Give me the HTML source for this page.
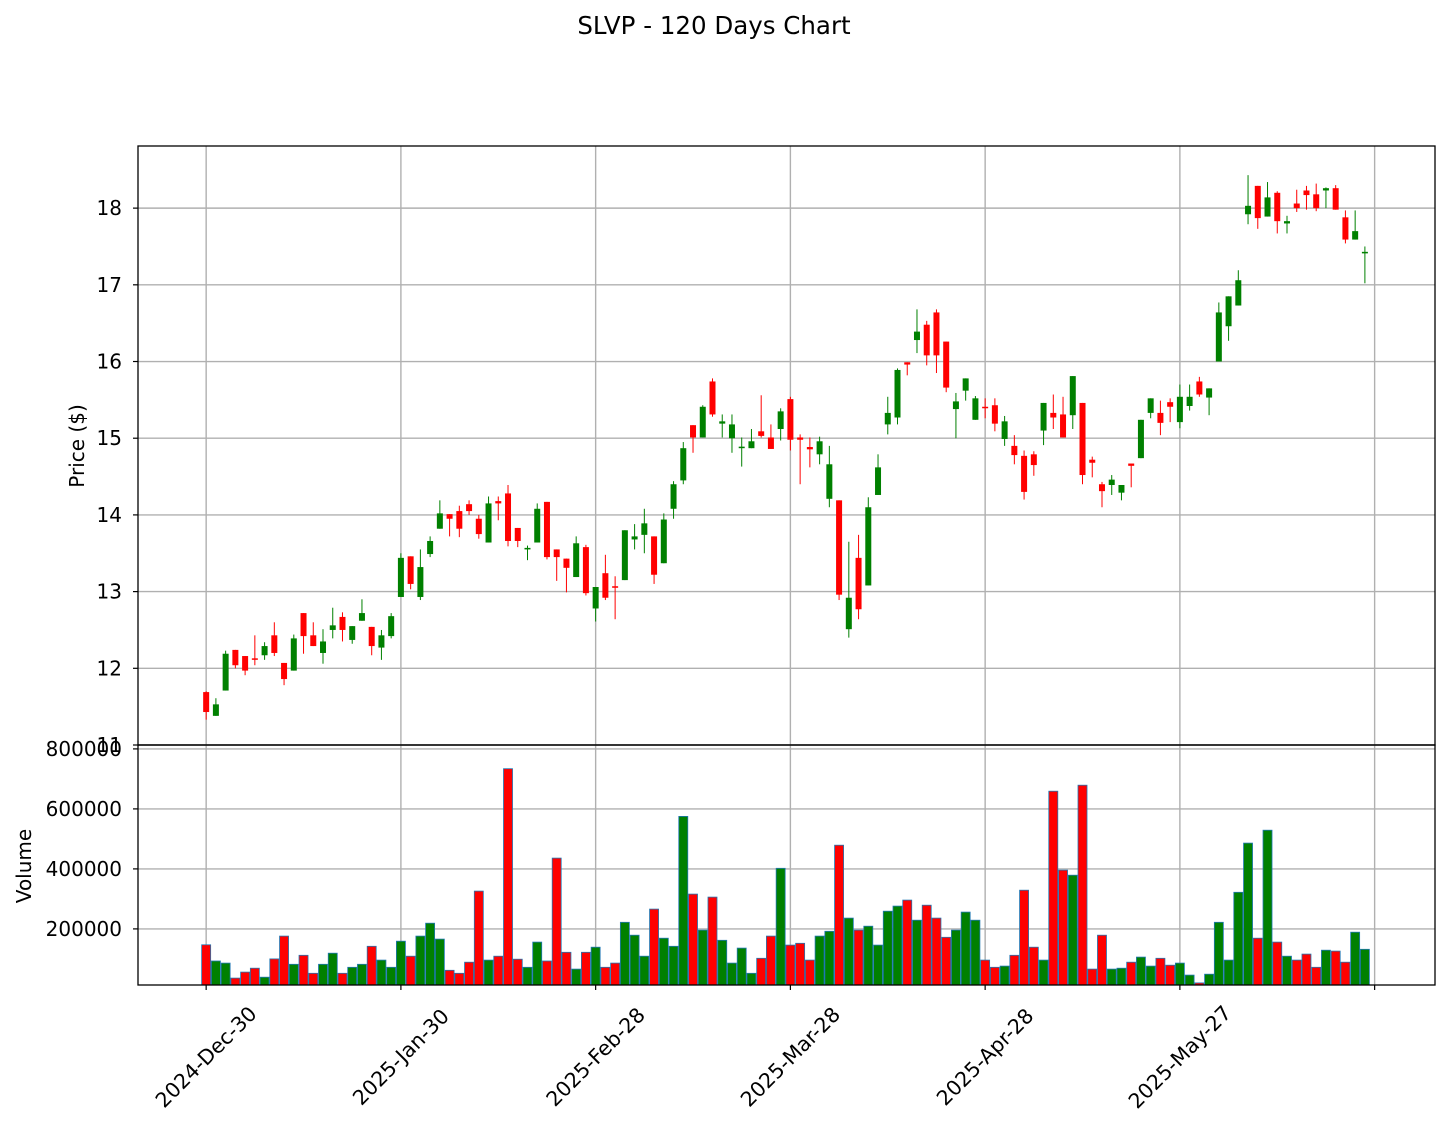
<!DOCTYPE html>
<html>
<head>
<meta charset="utf-8">
<style>
html,body{margin:0;padding:0;background:#fff;}
svg{display:block;font-family:"DejaVu Sans","Liberation Sans",sans-serif;}
</style>
</head>
<body>
<svg id="chart" width="1448" height="1127" viewBox="0 0 1448 1127" xmlns="http://www.w3.org/2000/svg">
<rect x="0" y="0" width="1448" height="1127" fill="#fff"/>
<text x="714" y="34" font-size="24.5" text-anchor="middle" fill="#000">SLVP - 120 Days Chart</text>
<g id="grid"></g>
<g id="candles"></g>
<g id="vols"></g>
<g id="axes"></g>
<text transform="translate(84,446) rotate(-90)" font-size="20" text-anchor="middle">Price ($)</text>
<text transform="translate(31,866) rotate(-90)" font-size="20" text-anchor="middle">Volume</text>
</svg>
<script>
const opens=[11.69,11.38,11.71,12.24,12.16,12.13,12.17,12.43,12.07,11.97,12.72,12.43,12.20,12.50,12.67,12.37,12.62,12.54,12.27,12.42,
12.93,13.46,12.93,13.49,13.82,14.01,14.05,14.14,13.95,13.64,14.18,14.28,13.83,13.55,13.64,14.17,13.55,13.43,13.19,13.58,
12.78,13.24,13.07,13.15,13.68,13.74,13.72,13.37,14.08,14.45,15.17,15.01,15.74,15.19,15.00,14.87,14.87,15.09,15.01,15.12,
15.51,15.01,14.885,14.79,14.21,14.19,12.51,13.44,13.08,14.26,15.18,15.27,15.99,16.28,16.48,16.64,16.26,15.38,15.62,15.24,
15.41,15.43,14.99,14.90,14.77,14.79,15.10,15.33,15.31,15.30,15.46,14.72,14.40,14.39,14.29,14.67,14.74,15.33,15.33,15.47,
15.21,15.42,15.74,15.53,16.00,16.46,16.73,17.92,18.29,17.89,18.20,17.80,18.06,18.23,18.18,18.23,18.26,17.88,17.59,17.41];
const closes=[11.43,11.53,12.19,12.04,11.97,12.12,12.29,12.20,11.86,12.39,12.42,12.29,12.35,12.56,12.50,12.55,12.72,12.29,12.43,12.68,
13.44,13.10,13.32,13.66,14.02,13.95,13.82,14.05,13.75,14.15,14.15,13.66,13.66,13.57,14.08,13.45,13.45,13.31,13.63,12.98,
13.06,12.92,13.05,13.80,13.72,13.89,13.22,13.94,14.40,14.87,15.01,15.41,15.31,15.22,15.18,14.89,14.96,15.03,14.86,15.35,
14.98,14.98,14.855,14.96,14.66,12.96,12.92,12.77,14.10,14.62,15.33,15.89,15.96,16.39,16.08,16.08,15.66,15.48,15.78,15.52,
15.40,15.19,15.22,14.78,14.30,14.65,15.46,15.27,15.01,15.81,14.52,14.68,14.31,14.46,14.39,14.64,15.24,15.52,15.20,15.41,
15.54,15.54,15.57,15.65,16.64,16.85,17.06,18.03,17.87,18.14,17.83,17.83,18.00,18.17,18.00,18.26,17.98,17.59,17.70,17.43];
const highs=[11.70,11.61,12.23,12.24,12.16,12.43,12.34,12.60,12.07,12.44,12.72,12.60,12.51,12.79,12.73,12.55,12.90,12.54,12.50,12.72,
13.50,13.46,13.55,13.72,14.19,14.01,14.12,14.19,14.00,14.24,14.24,14.39,13.83,13.60,14.15,14.17,13.55,13.43,13.72,13.61,
13.06,13.48,13.20,13.80,13.88,14.08,13.72,14.02,14.44,14.95,15.17,15.43,15.78,15.31,15.31,15.01,15.12,15.56,15.18,15.39,
15.54,15.05,15.01,15.02,14.90,14.19,13.65,13.74,14.23,14.79,15.54,15.91,15.99,16.68,16.53,16.68,16.26,15.59,15.78,15.55,
15.52,15.52,15.29,15.04,14.84,14.83,15.46,15.57,15.54,15.81,15.46,14.76,14.43,14.52,14.39,14.67,15.24,15.52,15.49,15.52,
15.70,15.70,15.80,15.65,16.77,16.85,17.19,18.43,18.29,18.34,18.22,17.90,18.24,18.29,18.32,18.27,18.30,17.97,17.97,17.50];
const lows=[11.33,11.38,11.71,12.00,11.91,12.04,12.11,12.16,11.78,11.97,12.19,12.29,12.06,12.39,12.35,12.32,12.62,12.17,12.11,12.39,
12.93,13.03,12.89,13.45,13.82,13.72,13.71,14.00,13.69,13.64,13.93,13.59,13.58,13.41,13.64,13.42,13.14,12.99,13.19,12.95,
12.61,12.89,12.64,13.15,13.55,13.50,13.10,13.37,13.95,14.40,14.81,15.01,15.28,15.01,14.81,14.63,14.87,15.01,14.86,14.97,
14.84,14.40,14.62,14.66,14.10,12.89,12.40,12.64,13.08,14.26,15.05,15.18,15.82,16.11,15.95,15.85,15.60,15.00,15.49,15.24,
15.26,15.09,14.90,14.66,14.20,14.51,14.91,15.12,15.01,15.12,14.40,14.49,14.10,14.26,14.19,14.36,14.74,15.26,15.04,15.21,
15.13,15.36,15.54,15.30,16.00,16.27,16.73,17.79,17.73,17.89,17.67,17.67,17.95,17.98,17.96,18.00,17.98,17.54,17.59,17.02];
const volumes=[147,93,86,36,56,69,39,100,176,82,112,52,82,119,52,72,82,142,96,72,
159,109,176,219,166,62,52,89,326,96,109,734,99,72,156,93,436,122,66,122,
139,72,86,222,179,109,266,169,142,575,316,196,306,162,86,136,52,102,176,402,
146,152,96,176,192,479,236,196,209,146,259,276,296,229,279,236,172,196,256,229,
96,72,76,112,329,139,96,659,396,379,679,66,179,66,69,89,106,76,102,79,
86,46,20,49,222,96,322,486,169,529,156,109,96,116,72,129,126,89,189,132].map(v=>v*1000);
const xTickIdx=[0,20,40,60,80,100,120];
const xTickLabels=["2024-Dec-30","2025-Jan-30","2025-Feb-28","2025-Mar-28","2025-Apr-28","2025-May-27",""];
const priceTicks=[11,12,13,14,15,16,17,18];
const volTicks=[200000,400000,600000,800000];

const L=138,R=1435,PT=146,PB=745,VT=745,VB=985;
const X=i=>L+(i+7)*(R-L)/133.2;
const YP=p=>PB-(p-11)*(PB-PT)/7.81;
const YV=v=>VB-(v-13000)*(VB-VT)/800000;
const NS='http://www.w3.org/2000/svg';
function mk(tag,attrs,parent){const e=document.createElementNS(NS,tag);for(const k in attrs)e.setAttribute(k,attrs[k]);parent.appendChild(e);return e;}
const grid=document.getElementById('grid'),cg=document.getElementById('candles'),vg=document.getElementById('vols'),ax=document.getElementById('axes');
const gs={stroke:'#b0b0b0','stroke-width':1.4};
xTickIdx.forEach(i=>{
  const gl=mk('line',Object.assign({x1:X(i),x2:X(i),y1:PT,y2:VB},gs),grid);
  
  
});
priceTicks.forEach(p=>{
  const gl=mk('line',Object.assign({x1:L,x2:R,y1:YP(p),y2:YP(p)},gs),grid);
  
  
});
volTicks.forEach(v=>{
  const gl=mk('line',Object.assign({x1:L,x2:R,y1:YV(v),y2:YV(v)},gs),grid);
  
  
});
for(let i=0;i<opens.length;i++){
  const up=closes[i]>=opens[i];const col=up?'#008000':'#ff0000';
  const g=mk('g',{},cg);
  
  
  const w=mk('line',{x1:X(i),x2:X(i),y1:YP(highs[i]),y2:YP(lows[i]),stroke:col,'stroke-width':1},g);
  
  
  const top=YP(Math.max(opens[i],closes[i])),bot=YP(Math.min(opens[i],closes[i]));
  const b=mk('rect',{x:X(i)-3,y:top,width:6,height:Math.max(bot-top,1.5),fill:col},g);
  
  
  const vy=Math.max(YV(volumes[i]),VT);
  const vb=mk('rect',{x:X(i)-4.5,y:vy,width:9,height:VB-vy,fill:col,stroke:'#1f77b4','stroke-width':0.8},vg);
  
  
}
const sp={fill:'none',stroke:'#000','stroke-width':1.3};
const f1=mk('rect',Object.assign({x:L,y:PT,width:R-L,height:PB-PT},sp),ax);


const f2=mk('rect',Object.assign({x:L,y:VT,width:R-L,height:VB-VT},sp),ax);


priceTicks.forEach(p=>{
  const t=mk('line',{x1:L-5,x2:L,y1:YP(p),y2:YP(p),stroke:'#000','stroke-width':1.2},ax);
  
  
  const tx=mk('text',{x:L-16,y:YP(p)+7,'font-size':20,'text-anchor':'end'},ax);
  tx.textContent=String(p);
  
  
});
volTicks.forEach(v=>{
  const t=mk('line',{x1:L-5,x2:L,y1:YV(v),y2:YV(v),stroke:'#000','stroke-width':1.2},ax);
  
  
  const tx=mk('text',{x:L-16,y:YV(v)+7,'font-size':20,'text-anchor':'end'},ax);
  tx.textContent=String(v);
  
  
});
xTickIdx.forEach((i,k)=>{
  const t=mk('line',{x1:X(i),x2:X(i),y1:VB,y2:VB+5,stroke:'#000','stroke-width':1.2},ax);
  
  
  if(xTickLabels[k]){
    const tx=mk('text',{transform:'translate('+X(i)+',1057) rotate(-45)','font-size':20.5,'text-anchor':'middle','dominant-baseline':'central'},ax);
    tx.textContent=xTickLabels[k];
    
    
  }
});
</script>
</body>
</html>
